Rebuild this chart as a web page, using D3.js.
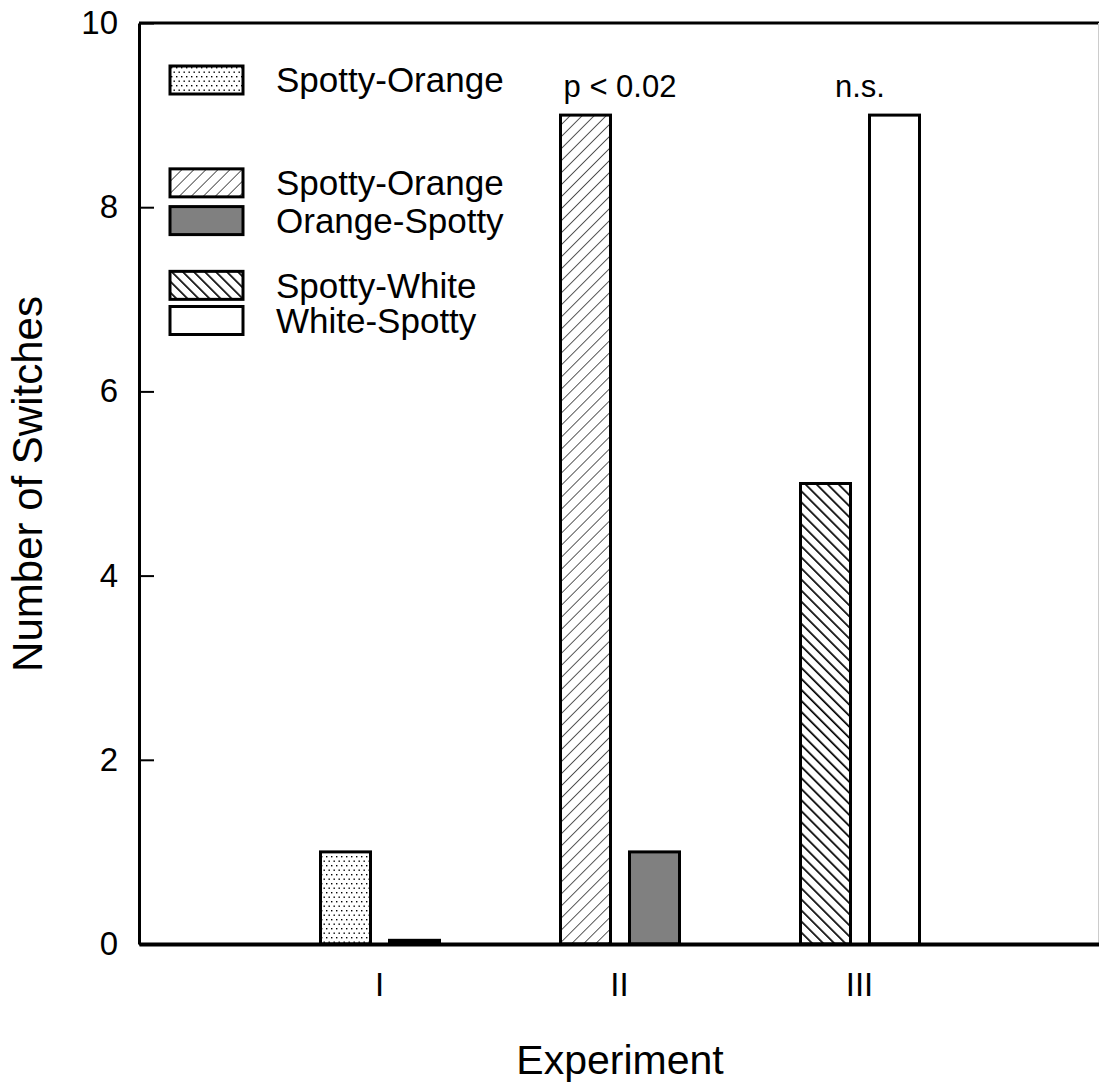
<!DOCTYPE html>
<html>
    <head>
        <style>
            body { margin: 0; background: #ffffff; }
            text { font-family: Arial, "Liberation Sans", sans-serif; fill: #000; }
        </style>
    </head>
    <body>
        <script src="https://cdn.jsdelivr.net/npm/d3@7"></script>
        <script type="text/javascript">
            // data
            var experiments = ['I', 'II', 'III'];
            var firstBars = [1, 9, 5];        // Spotty-Orange (dots), Spotty-Orange (hatch), Spotty-White
            var secondBars = [0.04, 1, 9];    // (black, near zero), Orange-Spotty, White-Spotty
            var firstFills = ['url(#dots)', 'url(#hatchFwd)', 'url(#hatchBack)'];
            var secondFills = ['#000000', '#808080', '#ffffff'];
            var annotations = ['', 'p < 0.02', 'n.s.'];
            var yTicks = [0, 2, 4, 6, 8, 10];
            var legendLabels = ['Spotty-Orange', 'Spotty-Orange', 'Orange-Spotty', 'Spotty-White', 'White-Spotty'];
            var legendFills = ['url(#dots)', 'url(#hatchFwd)', '#808080', 'url(#hatchBack)', '#ffffff'];
            var legendRows = [0, 2.78, 3.8, 5.55, 6.5];   // row positions in legend units

            var svgWidth = 1099, svgHeight = 1084;
            var svg = d3.select('body')
                .append('svg')
                .attr('width', svgWidth)
                .attr('height', svgHeight);

            var plot = { left: 139, right: 1099, top: 23, bottom: 944 };

            // fill patterns
            var defs = svg.append('defs');
            var dots = defs.append('pattern')
                .attr('id', 'dots')
                .attr('patternUnits', 'userSpaceOnUse')
                .attr('width', 10).attr('height', 9);
            dots.append('rect').attr('width', 10).attr('height', 9).attr('fill', '#fff');
            [[1, 1], [6, 1], [3.5, 5.5], [8.5, 5.5]].forEach(function (p) {
                dots.append('rect')
                    .attr('x', p[0]).attr('y', p[1])
                    .attr('width', 1.4).attr('height', 1.4)
                    .attr('fill', '#000');
            });

            var fwd = defs.append('pattern')
                .attr('id', 'hatchFwd')
                .attr('patternUnits', 'userSpaceOnUse')
                .attr('width', 8.5).attr('height', 8.5)
                .attr('patternTransform', 'rotate(45)');
            fwd.append('rect').attr('width', 8.5).attr('height', 8.5).attr('fill', '#fff');
            fwd.append('line')
                .attr('x1', 0).attr('y1', 0).attr('x2', 0).attr('y2', 8.5)
                .attr('stroke', '#000').attr('stroke-width', 1.3);

            var back = defs.append('pattern')
                .attr('id', 'hatchBack')
                .attr('patternUnits', 'userSpaceOnUse')
                .attr('width', 7.8).attr('height', 7.8)
                .attr('patternTransform', 'rotate(-45)');
            back.append('rect').attr('width', 7.8).attr('height', 7.8).attr('fill', '#fff');
            back.append('line')
                .attr('x1', 0).attr('y1', 0).attr('x2', 0).attr('y2', 7.8)
                .attr('stroke', '#000').attr('stroke-width', 3.4);

            var xScale = d3.scaleLinear()
                .domain([0, experiments.length + 1])
                .range([plot.left, plot.right]);

            var yScale = d3.scaleLinear()
                .domain([0, 10])
                .range([plot.bottom, plot.top]);

            var barWidth = 50, barGap = 19;

            // bars
            var bars = svg.append('g');
            bars.selectAll('rect.first')
                .data(firstBars)
                .enter()
                .append('rect')
                .attr('class', 'first')
                .attr('x', function (d, i) { return xScale(i + 1) - barWidth - barGap / 2 + 1; })
                .attr('y', function (d) { return yScale(d); })
                .attr('width', barWidth)
                .attr('height', function (d) { return yScale(0) - yScale(d); })
                .attr('fill', function (d, i) { return firstFills[i]; })
                .attr('stroke', '#000')
                .attr('stroke-width', 3);

            bars.selectAll('rect.second')
                .data(secondBars)
                .enter()
                .append('rect')
                .attr('class', 'second')
                .attr('x', function (d, i) { return xScale(i + 1) + barGap / 2 + 1; })
                .attr('y', function (d) { return yScale(d); })
                .attr('width', barWidth)
                .attr('height', function (d) { return yScale(0) - yScale(d); })
                .attr('fill', function (d, i) { return secondFills[i]; })
                .attr('stroke', '#000')
                .attr('stroke-width', 3);

            // significance notes above the tallest bar of each group
            svg.append('g').selectAll('text')
                .data(annotations)
                .enter()
                .append('text')
                .attr('x', function (d, i) { return xScale(i + 1) + 1; })
                .attr('y', function (d, i) { return yScale(d3.max([firstBars[i], secondBars[i]])) - 18; })
                .attr('text-anchor', 'middle')
                .style('font-size', '31px')
                .text(function (d) { return d; });

            // frame top and right
            svg.append('line')
                .attr('x1', plot.left).attr('x2', plot.right)
                .attr('y1', plot.top).attr('y2', plot.top)
                .attr('stroke', '#000').attr('stroke-width', 3);
            svg.append('line')
                .attr('x1', plot.right - 0.5).attr('x2', plot.right - 0.5)
                .attr('y1', plot.top).attr('y2', plot.bottom)
                .attr('stroke', '#ccc').attr('stroke-width', 1);

            // axes
            var yAxis = d3.axisLeft(yScale)
                .tickValues(yTicks)
                .tickSizeInner(-15)
                .tickSizeOuter(0)
                .tickPadding(21);
            var yAxisNodes = svg.append('g')
                .attr('transform', 'translate(' + plot.left + ',0)')
                .call(yAxis);
            yAxisNodes.select('.domain').attr('stroke-width', 3);
            yAxisNodes.selectAll('.tick line').attr('stroke-width', 2);
            yAxisNodes.selectAll('.tick text')
                .style('font-size', '33px')
                .style('font-family', 'Arial, "Liberation Sans", sans-serif');

            var xAxis = d3.axisBottom(xScale)
                .tickValues(experiments.map(function (d, i) { return i + 1; }))
                .tickFormat(function (d) { return experiments[d - 1]; })
                .tickSize(0)
                .tickPadding(29);
            var xAxisNodes = svg.append('g')
                .attr('transform', 'translate(0,' + plot.bottom + ')')
                .call(xAxis);
            xAxisNodes.select('.domain').attr('stroke-width', 4);
            xAxisNodes.selectAll('.tick text')
                .style('font-size', '33px')
                .style('font-family', 'Arial, "Liberation Sans", sans-serif');

            // axis titles
            svg.append('text')
                .attr('x', 620).attr('y', 1074)
                .attr('text-anchor', 'middle')
                .style('font-size', '41px')
                .text('Experiment');
            svg.append('text')
                .attr('transform', 'translate(42,484) rotate(-90)')
                .attr('text-anchor', 'middle')
                .style('font-size', '42px')
                .text('Number of Switches');

            // legend
            var legendUnit = 37, legendTop = 66;
            var legend = svg.append('g').attr('transform', 'translate(170,' + legendTop + ')');
            var items = legend.selectAll('g')
                .data(legendLabels)
                .enter()
                .append('g')
                .attr('transform', function (d, i) { return 'translate(0,' + legendRows[i] * legendUnit + ')'; });
            items.append('rect')
                .attr('width', 73).attr('height', 28)
                .attr('fill', function (d, i) { return legendFills[i]; })
                .attr('stroke', '#000').attr('stroke-width', 3);
            items.append('text')
                .attr('x', 106).attr('y', 14)
                .attr('dy', '0.35em')
                .style('font-size', '35px')
                .text(function (d) { return d; });
        </script>
    </body>
</html>
